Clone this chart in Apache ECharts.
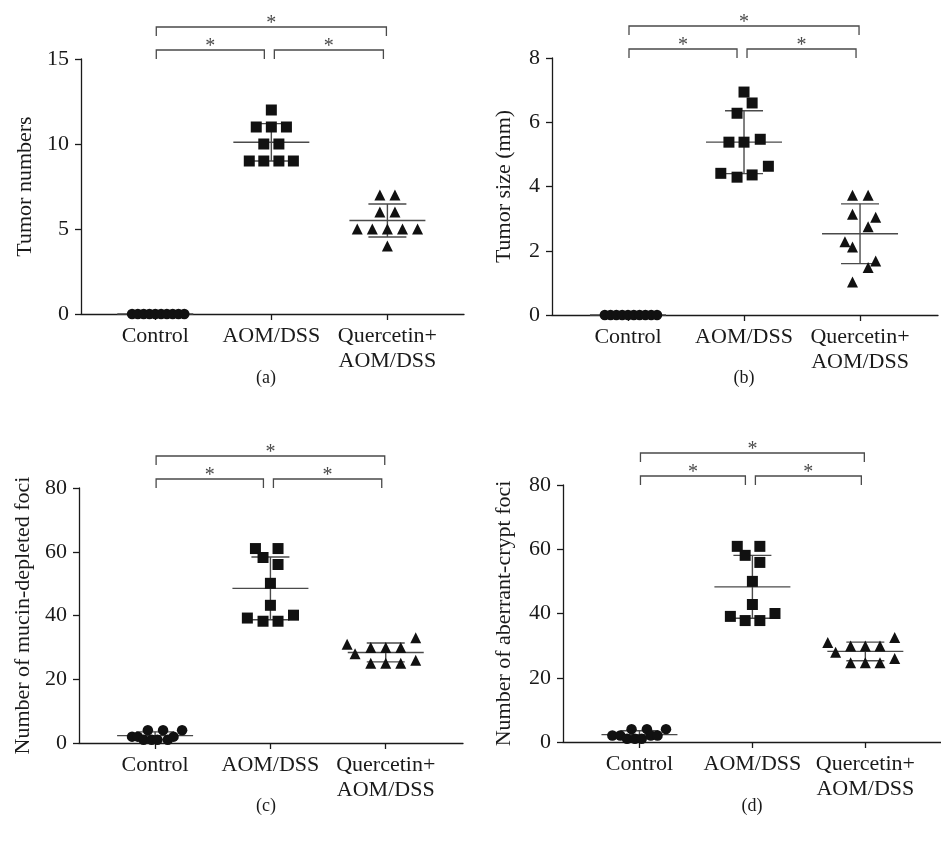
<!DOCTYPE html>
<html>
<head>
<meta charset="utf-8">
<script src="https://cdn.jsdelivr.net/npm/echarts@6/dist/echarts.min.js"></script>
<style>
    html, body { margin: 0; padding: 0; background: #fff; }
    #chart { width: 941px; height: 842px; }
</style>
</head>
<body>
<div id="chart"></div>
<script>
const groups = ["Control", "AOM/DSS", "Quercetin+\nAOM/DSS"];
// significance brackets: [from group, to group, level]
const pairs = [[0, 2, 1], [0, 1, 0], [1, 2, 0]];

// each point: [offset inside its group, value]
const aControl = [[-0.2, 0], [-0.15, 0], [-0.1, 0], [-0.05, 0], [0, 0], [0.05, 0], [0.1, 0], [0.15, 0], [0.2, 0], [0.25, 0]];
const aAom = [[0, 12], [-0.13, 11], [0, 11], [0.13, 11], [-0.065, 10], [0.065, 10], [-0.19, 9], [-0.065, 9], [0.065, 9], [0.19, 9]];
const aQuer = [[-0.065, 7], [0.065, 7], [-0.065, 6], [0.065, 6], [-0.26, 5], [-0.13, 5], [0, 5], [0.13, 5], [0.26, 5], [0, 4]];
const aMean = [0, 10.1, 5.5];
const aSd = [0, 1.1, 0.97];

const bControl = [[-0.2, 0], [-0.15, 0], [-0.1, 0], [-0.05, 0], [0, 0], [0.05, 0], [0.1, 0], [0.15, 0], [0.2, 0], [0.25, 0]];
const bAom = [[0, 6.94], [0.07, 6.6], [-0.06, 6.28], [-0.13, 5.38], [0, 5.38], [0.14, 5.47], [0.21, 4.63], [-0.2, 4.41], [-0.06, 4.29], [0.07, 4.36]];
const bQuer = [[-0.065, 3.73], [0.07, 3.73], [-0.065, 3.14], [0.135, 3.04], [0.07, 2.75], [-0.13, 2.28], [-0.065, 2.12], [0.135, 1.68], [0.07, 1.48], [-0.065, 1.03]];
const bMean = [0, 5.38, 2.53];
const bSd = [0, 0.98, 0.93];

const cControl = [[-0.2, 2], [-0.15, 2], [-0.1, 1], [-0.063, 4], [-0.03, 1], [0.02, 1], [0.069, 4], [0.11, 1], [0.16, 2], [0.234, 4]];
const cAom = [[-0.13, 61], [0.066, 61], [-0.064, 58.2], [0.066, 56], [0, 50.1], [0, 43.2], [-0.2, 39.2], [-0.064, 38.2], [0.066, 38.2], [0.2, 40.1]];
const cQuer = [[-0.335, 31], [-0.266, 28], [-0.13, 30], [0, 30], [0.13, 30], [0.26, 33], [-0.13, 25], [0, 25], [0.13, 25], [0.26, 26]];
const cMean = [2.3, 48.5, 28.4];
const cSd = [1.2, 9.85, 2.95];

const dControl = [[-0.24, 2], [-0.17, 2], [-0.11, 1], [-0.07, 4], [-0.04, 1], [0.02, 1], [0.066, 4], [0.1, 2], [0.16, 2], [0.235, 4]];
const dAom = [[-0.134, 60.9], [0.066, 60.9], [-0.064, 58.1], [0.066, 55.9], [0, 50], [0, 42.8], [-0.195, 39.1], [-0.064, 37.8], [0.066, 37.8], [0.2, 40]];
const dQuer = [[-0.333, 31], [-0.263, 27.9], [-0.13, 29.9], [0, 29.9], [0.13, 29.9], [0.26, 32.5], [-0.13, 24.7], [0, 24.7], [0.13, 24.7], [0.26, 26]];
const dMean = [2.3, 48.3, 28.2];
const dSd = [1.2, 9.8, 2.9];

const FONT = "Liberation Serif";
const INK = "#1a1a1a";
const LINE = "#4a4a4a";

const panels = [
    { grid: { left: 81, top: 59, width: 383, height: 255 }, xMin: -0.64, xMax: 2.66, yMax: 15, step: 5,
      name: "Tumor numbers", gap: 45, pts: [aControl, aAom, aQuer], mean: aMean, sd: aSd, tag: "(a)", tagX: 266, tagY: 378 },
    { grid: { left: 552, top: 58, width: 386, height: 257 }, xMin: -0.655, xMax: 2.672, yMax: 8, step: 2,
      name: "Tumor size (mm)", gap: 37, pts: [bControl, bAom, bQuer], mean: bMean, sd: bSd, tag: "(b)", tagX: 744, tagY: 378 },
    { grid: { left: 79, top: 488, width: 384, height: 255 }, xMin: -0.66, xMax: 2.67, yMax: 80, step: 20,
      name: "Number of mucin-depleted foci", gap: 45, pts: [cControl, cAom, cQuer], mean: cMean, sd: cSd, tag: "(c)", tagX: 266, tagY: 806 },
    { grid: { left: 563, top: 485, width: 385, height: 257 }, xMin: -0.677, xMax: 2.67, yMax: 80, step: 20,
      name: "Number of aberrant-crypt foci", gap: 48, pts: [dControl, dAom, dQuer], mean: dMean, sd: dSd, tag: "(d)", tagX: 752, tagY: 806 },
];

const symbols = [
    { symbol: "circle", size: 10.5 },
    { symbol: "rect", size: 11 },
    { symbol: "triangle", size: 11 },
];

const grids = [];
const xAxes = [];
const yAxes = [];
const series = [];
const graphics = [];

panels.forEach((p, i) => {
    grids.push(p.grid);
    xAxes.push({
        gridIndex: i,
        type: "value",
        min: p.xMin,
        max: p.xMax,
        splitLine: { show: false },
        axisLine: { show: true, onZero: false, lineStyle: { color: INK, width: 1.3 } },
        axisTick: { show: true, length: 6, customValues: [0, 1, 2], lineStyle: { color: INK, width: 1.3 } },
        axisLabel: {
            customValues: [0, 1, 2],
            formatter: (v) => groups[Math.round(v)],
            fontFamily: FONT,
            fontSize: 22,
            color: INK,
            lineHeight: 25,
            margin: 10,
        },
    });
    yAxes.push({
        gridIndex: i,
        type: "value",
        min: 0,
        max: p.yMax,
        interval: p.step,
        splitLine: { show: false },
        axisLine: { show: true, onZero: false, lineStyle: { color: INK, width: 1.3 } },
        axisTick: { show: true, length: 6, lineStyle: { color: INK, width: 1.3 } },
        axisLabel: { fontFamily: FONT, fontSize: 22, color: INK, margin: 12 },
        name: p.name,
        nameLocation: "middle",
        nameGap: p.gap,
        nameTextStyle: { fontFamily: FONT, fontSize: 22, color: INK },
    });

    // mean +/- SD
    series.push({
        type: "custom",
        xAxisIndex: i,
        yAxisIndex: i,
        z: 1,
        silent: true,
        data: p.mean.map((m, g) => [g, m, p.sd[g]]),
        renderItem: (params, api) => {
            const c = api.coord([api.value(0), api.value(1)]);
            const style = { stroke: LINE, lineWidth: 1.4 };
            const kids = [
                { type: "line", shape: { x1: c[0] - 38, y1: c[1], x2: c[0] + 38, y2: c[1] }, style },
            ];
            if (api.value(2) > 0) {
                const hi = api.coord([api.value(0), api.value(1) + api.value(2)]);
                const lo = api.coord([api.value(0), api.value(1) - api.value(2)]);
                kids.push({ type: "line", shape: { x1: c[0], y1: hi[1], x2: c[0], y2: lo[1] }, style });
                kids.push({ type: "line", shape: { x1: c[0] - 19, y1: hi[1], x2: c[0] + 19, y2: hi[1] }, style });
                kids.push({ type: "line", shape: { x1: c[0] - 19, y1: lo[1], x2: c[0] + 19, y2: lo[1] }, style });
            }
            return { type: "group", children: kids };
        },
    });

    // points
    p.pts.forEach((pts, g) => {
        series.push({
            type: "scatter",
            xAxisIndex: i,
            yAxisIndex: i,
            z: 3,
            symbol: symbols[g].symbol,
            symbolSize: symbols[g].size,
            itemStyle: { color: "#111", opacity: 1 },
            data: pts.map((d) => [g + d[0], d[1]]),
        });
    });

    // significance brackets
    series.push({
        type: "custom",
        xAxisIndex: i,
        yAxisIndex: i,
        clip: false,
        silent: true,
        data: pairs,
        renderItem: (params, api) => {
            const from = api.value(0);
            const to = api.value(1);
            const level = api.value(2);
            const top = params.coordSys.y;
            const y = top - (level ? 32 : 9);
            let x1 = api.coord([from, 0])[0];
            let x2 = api.coord([to, 0])[0];
            if (level) {
                x1 += 1; x2 -= 1;
            } else if (from === 0) {
                x1 += 1; x2 -= 7;
            } else {
                x1 += 3; x2 -= 4;
            }
            const style = { stroke: LINE, lineWidth: 1.3, fill: null };
            return {
                type: "group",
                children: [
                    { type: "polyline", shape: { points: [[x1, y + 9], [x1, y], [x2, y], [x2, y + 9]] }, style },
                    {
                        type: "text",
                        style: {
                            text: "*",
                            x: (x1 + x2) / 2,
                            y: y - 3,
                            align: "center",
                            verticalAlign: "middle",
                            font: "20px " + FONT,
                            fill: LINE,
                        },
                    },
                ],
            };
        },
    });

    graphics.push({
        type: "text",
        x: p.tagX,
        y: p.tagY,
        style: {
            text: p.tag,
            align: "center",
            verticalAlign: "middle",
            font: "18px " + FONT,
            fill: INK,
        },
    });
});

const chart = echarts.init(document.getElementById("chart"));
chart.setOption({
    animation: false,
    backgroundColor: "#fff",
    grid: grids,
    xAxis: xAxes,
    yAxis: yAxes,
    series: series,
    graphic: graphics,
});
</script>
</body>
</html>
